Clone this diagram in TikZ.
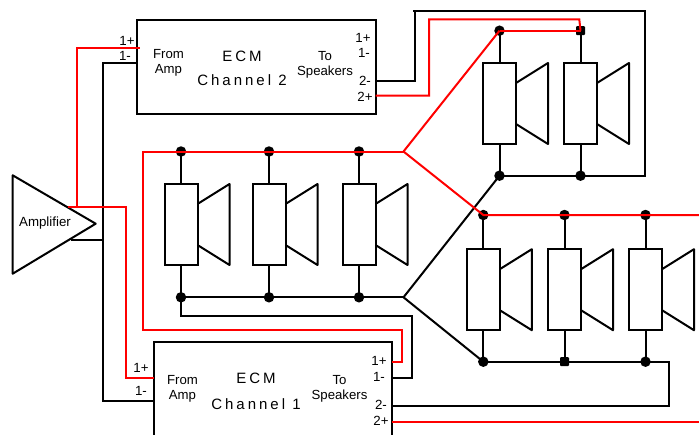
\documentclass[tikz,border=0pt]{standalone}
\usepackage{fontspec}
\setmainfont{Liberation Sans}
\newfontfamily\widefont[LetterSpace=20]{Liberation Sans}
\usetikzlibrary{calc}
\tikzset{
    wire/.style={line width=2pt, black},
    redwire/.style={line width=2pt, red},
    ecmbox/.style={draw, line width=2pt, rectangle, anchor=north west, inner sep=0pt, outer sep=0pt},
    spkbox/.style={draw, line width=2pt, rectangle, minimum width=33pt, minimum height=81pt, inner sep=0pt, outer sep=0pt},
    cone/.style={line width=2pt, line join=round},
    dot/.style={circle, fill=black, minimum size=10.5pt, inner sep=0pt},
    sqdot/.style={rectangle, rounded corners=1pt, fill=black, minimum size=9pt, inner sep=0pt},
    port/.style={font=\fontsize{13.3}{14}\selectfont, inner sep=0pt},
    side/.style={font=\fontsize{13.2}{16}\selectfont, align=center, inner sep=0pt},
    title/.style={font=\fontsize{15}{16}\selectfont\widefont, inner sep=0pt}
}
\begin{document}
\begin{tikzpicture}[x=1pt, y=-1pt]
    \clip (0, 0) rectangle (699, 434);
    % amplifier and the two channels
    \coordinate (ampa) at (12.7, 175.3);
    \coordinate (ampb) at (95.7, 223.7);
    \coordinate (ampc) at (12.7, 273.7);
    \draw[cone] (ampa) -- (ampb) -- (ampc) -- cycle;
    \node[port] (amplabel) at (45, 223.5) {Amplifier};
    \node[ecmbox, minimum width=238.5pt, minimum height=94pt] (chtwo) at (137, 19.5) {};
    \node[ecmbox, minimum width=238pt, minimum height=120pt] (chone) at (153.5, 341.5) {};
    % speakers
    \foreach \spk/\x/\y/\ty/\by in {
        a/181/224.5/151.5/297.3, b/269/224.5/151.5/297.3, c/359/224.5/151.5/297.3,
        d/499.5/103.5/30.7/175.7, e/580.5/103.5/30.7/175.7,
        f/483.3/289.7/215/361.7, g/564.5/289.7/215/361.7, h/645.5/289.7/215/361.7} {
        \node[spkbox] (\spk) at (\x, \y) {};
        \draw[cone] ($(\spk.east)+(0, -20.5)$) -- ($(\spk.north east)+(32, 0)$)
            -- ($(\spk.south east)+(32, 0)$) -- ($(\spk.east)+(0, 20.5)$);
        \coordinate (\spk top) at (\x, \ty);
        \coordinate (\spk bot) at (\x, \by);
        \draw[wire] (\spk.north) -- (\spk top);
        \draw[wire] (\spk.south) -- (\spk bot);
    }
    % black wiring
    \coordinate (forkblack) at (403.5, 297.3);
    \coordinate (ampminus) at (71.3, 239.7);
    \coordinate (ampbus) at (103, 239.7);
    \coordinate (twominus) at (375.5, 81);
    \draw[wire] (abot) -- (bbot) -- (cbot) -- (forkblack);
    \draw[wire] (dbot) -- (forkblack) -- (fbot);
    \draw[wire] (dbot) -- (ebot) -- (645.3, 175.7) -- (645.3, 11.3) -- (413.3, 11.3);
    \draw[wire] (415.3, 11.3) -- (415.3, 81) -- (twominus);
    \draw[wire] (fbot) -- (gbot) -- (hbot) -- (669.3, 361.7) -- (669.3, 405.7) -- (chone.north east |- 0, 405.7);
    \draw[wire] (abot) -- (181, 315.7) -- (411.7, 315.7) -- (411.7, 377.7) -- (chone.north east |- 0, 377.7);
    \draw[wire] (ampminus) -- (ampbus);
    \draw[wire] (chtwo.north west |- 0, 63.3) -- (103, 63.3) -- (103, 401.3) -- (chone.north west |- 0, 401.3);
    % junction dots
    \foreach \spk in {atop, abot, btop, bbot, ctop, cbot, dtop, dbot, ebot, ftop, fbot, gtop, htop, hbot} {
        \node[dot] (dot\spk) at (\spk) {};
    }
    \node[sqdot] (dotetop) at (etop) {};
    \node[sqdot] (dotgbot) at (gbot) {};
    % red wiring
    \coordinate (forkred) at (403.5, 151.5);
    \coordinate (ampplus) at (68, 207.3);
    \draw[redwire] (dtop) -- (etop);
    \draw[redwire] (dtop) -- (forkred) -- (ftop) -- (699, 215);
    \draw[redwire] (forkred) -- (atop) -- (141.5, 151.5);
    \draw[redwire] (143, 151.5) -- (143, 329.7) -- (401.7, 329.7) -- (401.7, 361.7) -- (chone.north east |- 0, 361.7);
    \draw[redwire] (ampplus) -- (125.5, 207.3) -- (125.5, 377.7) -- (chone.north west |- 0, 377.7);
    \draw[redwire] (77, 207.3) -- (77, 47.7) -- (140, 47.7);
    \draw[redwire] (chtwo.north east |- 0, 95.7) -- (429, 95.7) -- (429, 19.3) -- (579.3, 19.3) -- (etop);
    \draw[redwire] (chone.north east |- 0, 421.7) -- (699, 421.7);
    % channel texts
    \node[side] (fromtwo) at (168.5, 63) {From\\[-1pt]Amp};
    \node[side] (tospktwo) at (325, 65) {To\\[-1pt]Speakers};
    \node[title] (ecmtwo) at (242, 56.5) {ECM};
    \node[title] (nametwo) at (242, 80) {Channel 2};
    \node[side] (fromone) at (182.5, 389) {From\\[-1pt]Amp};
    \node[side] (tospkone) at (339.5, 389) {To\\[-1pt]Speakers};
    \node[title] (ecmone) at (256, 378) {ECM};
    \node[title] (nameone) at (256, 404.5) {Channel 1};
    % port labels
    \foreach \lbl/\x/\y/\txt in {
        pa/127/41/1+, pb/125/56/1-, pc/363/38/1+, pd/364/53/1-, pe/365/81/2-, pf/365/97/2+,
        pg/141/368/1+, ph/141/391/1-, pi/379/361/1+, pj/379/377/1-, pk/381/405/2-, pl/381/421/2+} {
        \node[port] (\lbl) at (\x, \y) {\txt};
    }
\end{tikzpicture}
\end{document}
